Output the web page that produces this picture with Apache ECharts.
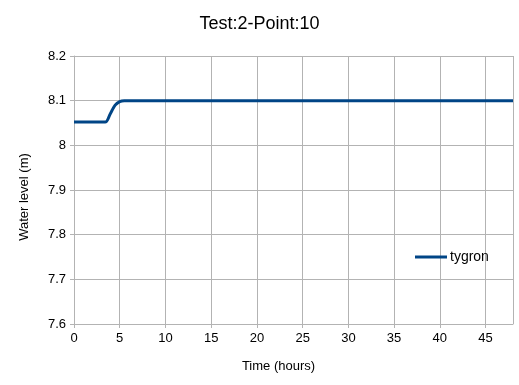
<!DOCTYPE html>
<html><head><meta charset="utf-8">
<script src="https://cdn.jsdelivr.net/npm/echarts@6/dist/echarts.min.js"></script>
<style>html,body{margin:0;padding:0;background:#fff}#c{width:519px;height:385px}</style>
</head><body><div id="c"></div>
<script>
const hours = [0,1,2,3,3.4,4,4.5,5,5.5,6,7,8,9,10,12,15,20,25,30,35,40,45,48];
const tygron = [8.052,8.052,8.052,8.052,8.052,8.072,8.09,8.098,8.1,8.1,8.1,8.1,8.1,8.1,8.1,8.1,8.1,8.1,8.1,8.1,8.1,8.1,8.1];
const xTicks = [0,5,10,15,20,25,30,35,40,45];
const yTicks = [7.6,7.7,7.8,7.9,8,8.1,8.2];
const font = 'Liberation Sans, Arial, sans-serif';
const chart = echarts.init(document.getElementById('c'));
chart.setOption({
  animation:false,
  backgroundColor:'#fff',
  title:{text:'Test:2-Point:10',left:'center',top:10,textStyle:{fontFamily:font,fontSize:18,fontWeight:'normal',color:'#000'}},
  grid:{left:74,right:6,top:56,bottom:61,containLabel:false},
  legend:{show:true,left:415,top:250,padding:0,itemWidth:32,itemHeight:3,icon:'rect',itemGap:4,
    textStyle:{fontFamily:font,fontSize:14,color:'#000',padding:[0,0,0,-2]},data:['tygron']},
  xAxis:{type:'value',min:0,max:48,interval:5,name:'Time (hours)',nameLocation:'middle',nameGap:36,
    nameTextStyle:{fontFamily:font,fontSize:13,color:'#000',padding:[0,30,0,0]},
    axisLine:{show:true,lineStyle:{color:'#b3b3b3'}},
    axisTick:{show:true,length:4,lineStyle:{color:'#b3b3b3'}},
    axisLabel:{fontFamily:font,fontSize:13,color:'#000',margin:8,showMaxLabel:false,
      formatter:v=>xTicks.includes(v)?String(v):''},
    splitLine:{show:true,lineStyle:{color:'#b3b3b3',width:1}}},
  yAxis:{type:'value',min:7.6,max:8.2,interval:0.1,name:'Water level (m)',nameLocation:'middle',nameGap:43,
    nameTextStyle:{fontFamily:font,fontSize:13,color:'#000',padding:[0,14,0,0]},
    axisLine:{show:true,lineStyle:{color:'#b3b3b3'}},
    axisTick:{show:true,length:4,lineStyle:{color:'#b3b3b3'}},
    axisLabel:{fontFamily:font,fontSize:13,color:'#000',margin:8,
      formatter:v=>{const r=Math.round(v*10)/10;return yTicks.includes(r)?String(r):'';}},
    splitLine:{show:true,lineStyle:{color:'#b3b3b3',width:1}}},
  series:[{name:'tygron',type:'line',data:hours.map((h,i)=>[h,tygron[i]]),smooth:0.4,showSymbol:false,
    lineStyle:{color:'#004586',width:3},itemStyle:{color:'#004586'}}]
});
</script></body></html>
